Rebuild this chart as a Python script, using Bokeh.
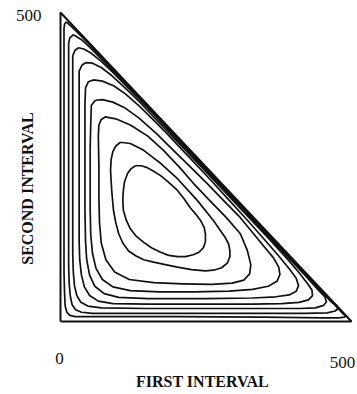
from bokeh.plotting import figure
from bokeh.models import Range1d
from bokeh.core.properties import value
from bokeh.embed import file_html
from bokeh.resources import INLINE
import math

# ---------------- data ----------------
axis_max = 500                       # both intervals run 0..500
x_tick_values = [0, 500]
x_tick_labels = ["0", "500"]
y_tick_values = [500]
y_tick_labels = ["500"]
x_title = "FIRST INTERVAL"
y_title = "SECOND INTERVAL"

# boundary of the admissible region (first + second <= 500)
edge_x = [0, 0, 500, 0]
edge_y = [0, 500, 0, 0]

# contour lines, innermost (c1) to outermost (c9)
c1_x = [129, 139, 149, 160, 172, 186, 201, 212, 223, 233, 241, 247, 249, 249, 246, 238, 228, 215, 201, 186, 172, 157, 143, 130, 120, 113, 108, 107, 108, 110, 115, 121, 129]
c1_y = [252, 252, 249, 243, 236, 225, 212, 199, 184, 173, 163, 152, 142, 130, 120, 112, 108, 105, 105, 107, 112, 119, 128, 138, 150, 164, 180, 196, 212, 226, 239, 247, 252]

c2_x = [103, 120, 143, 158, 172, 201, 235, 263, 283, 289, 291, 291, 287, 277, 263, 249, 225, 201, 180, 160, 143, 130, 117, 107, 100, 95, 91, 88, 86, 87, 90, 95, 103]
c2_y = [290, 288, 277, 266, 256, 231, 196, 163, 136, 125, 115, 105, 95, 87, 83, 82, 84, 88, 92, 96, 100, 106, 114, 127, 142, 160, 180, 212, 244, 262, 275, 284, 290]

c3_x = [65, 66, 66, 67, 70, 78, 93, 118, 160, 210, 260, 295, 315, 325, 327, 321, 309, 285, 252, 228, 205, 177, 150, 120, 95, 77, 70, 66, 65]
c3_y = [300, 250, 200, 160, 127, 100, 80, 68, 63, 61, 60, 62, 67, 77, 92, 115, 142, 168, 200, 224, 249, 277, 300, 318, 328, 331, 327, 318, 300]

c4_x = [60, 53, 52, 51, 51, 51, 52, 55, 61, 72, 90, 120, 170, 230, 290, 330, 357, 372, 377, 375, 366, 350, 330, 309, 280, 250, 220, 194, 165, 135, 110, 90, 72, 60]
c4_y = [358, 350, 320, 280, 230, 180, 140, 110, 86, 68, 56, 50, 48, 48, 49, 52, 57, 65, 76, 88, 103, 121, 144, 168, 196, 225, 253, 277, 304, 329, 346, 355, 359, 358]

c5_x = [57, 48, 43, 42, 42, 42, 42, 43, 45, 50, 59, 75, 100, 150, 250, 330, 370, 393, 405, 409, 405, 394, 375, 350, 320, 290, 260, 230, 210, 185, 160, 135, 112, 92, 72, 57]
c5_y = [391, 388, 378, 350, 300, 240, 180, 130, 100, 75, 57, 45, 39, 37, 37, 38, 40, 43, 49, 58, 70, 84, 106, 133, 165, 196, 227, 257, 277, 302, 326, 349, 368, 381, 389, 391]

c6_x = [44, 37, 32, 32, 32, 32, 32, 32, 33, 36, 41, 50, 65, 90, 150, 250, 330, 380, 410, 426, 433, 432, 424, 410, 390, 360, 320, 280, 240, 200, 165, 135, 110, 88, 70, 55, 44]
c6_y = [419, 415, 405, 380, 330, 260, 190, 130, 100, 75, 56, 42, 33, 29, 28, 28, 28, 29, 31, 35, 42, 51, 62, 79, 101, 132, 172, 212, 252, 292, 326, 356, 379, 398, 411, 418, 419]

c7_x = [31, 25, 21, 21, 21, 21, 21, 21, 22, 24, 28, 35, 47, 70, 150, 250, 350, 410, 438, 452, 457, 454, 444, 420, 390, 350, 300, 250, 200, 150, 115, 90, 70, 53, 40, 31]
c7_y = [443, 439, 430, 400, 330, 250, 170, 110, 80, 58, 42, 31, 25, 22, 21, 21, 21, 21, 22, 26, 32, 40, 50, 75, 105, 145, 195, 245, 295, 345, 379, 403, 421, 434, 441, 443]

c8_x = [22, 16, 14, 14, 14, 14, 14, 14, 15, 17, 20, 26, 36, 55, 150, 300, 420, 458, 472, 477, 475, 466, 440, 400, 350, 300, 250, 200, 150, 100, 70, 50, 36, 26, 22]
c8_y = [464, 459, 450, 420, 350, 250, 150, 90, 60, 40, 27, 19, 15, 13, 13, 13, 13, 14, 17, 21, 26, 31, 57, 97, 147, 197, 247, 297, 347, 396, 425, 444, 456, 462, 464]

c9_x = [10, 7, 6, 6, 6, 6, 6, 6, 7, 8, 11, 16, 25, 60, 200, 350, 450, 478, 488, 490, 486, 470, 400, 300, 200, 100, 50, 30, 18, 10]
c9_y = [485, 481, 474, 440, 350, 250, 150, 80, 45, 25, 15, 10, 8, 8, 8, 7, 6, 6, 7, 9, 12, 28, 98, 198, 298, 398, 448, 467, 478, 485]

contours_x = [c1_x, c2_x, c3_x, c4_x, c5_x, c6_x, c7_x, c8_x, c9_x]
contours_y = [c1_y, c2_y, c3_y, c4_y, c5_y, c6_y, c7_y, c8_y, c9_y]

# ---------------- layout (pixels) ----------------
W, H = 357, 394
ORIGIN_X, ORIGIN_Y = 60, 321        # canvas px of data (0, 0)
SX = 291 / axis_max                  # px per unit, horizontal
SY = 309 / axis_max                  # px per unit, vertical


def data_x(px):
    return (px - ORIGIN_X) / SX


def data_y(py):
    return (ORIGIN_Y - py) / SY


p = figure(width=W, height=H, output_backend="svg", toolbar_location=None,
           x_range=Range1d(data_x(0), data_x(W)),
           y_range=Range1d(data_y(H), data_y(0)),
           x_axis_location=None, y_axis_location=None,
           min_border=0, outline_line_color=None,
           background_fill_color="white", border_fill_color="white")
p.grid.grid_line_color = None

INK = "#111111"
SERIF = value("Liberation Serif")

p.line(edge_x, edge_y, line_color=INK, line_width=2)
for cx, cy in zip(contours_x, contours_y):
    p.line(cx, cy, line_color=INK, line_width=1.7, line_join="round")

# tick labels
p.text(x=x_tick_values, y=[0] * len(x_tick_values), text=x_tick_labels,
       x_offset=[-1, -9], y_offset=[37, 41],
       text_font=SERIF, text_font_size="17px", text_color=INK,
       text_align="center", text_baseline="middle")
p.text(x=[0] * len(y_tick_values), y=y_tick_values, text=y_tick_labels,
       x_offset=-19, y_offset=3,
       text_font=SERIF, text_font_size="17px", text_color=INK,
       text_align="right", text_baseline="middle")

# axis titles
p.text(x=[data_x(202)], y=[data_y(381)], text=[x_title],
       text_font=SERIF, text_font_size="16px", text_font_style="bold",
       text_color=INK, text_align="center", text_baseline="middle")
p.text(x=[data_x(27)], y=[data_y(188)], text=[y_title], angle=math.pi / 2,
       text_font=SERIF, text_font_size="16px", text_font_style="bold",
       text_color=INK, text_align="center", text_baseline="middle")

open("out.html", "w").write(file_html(p, INLINE))
